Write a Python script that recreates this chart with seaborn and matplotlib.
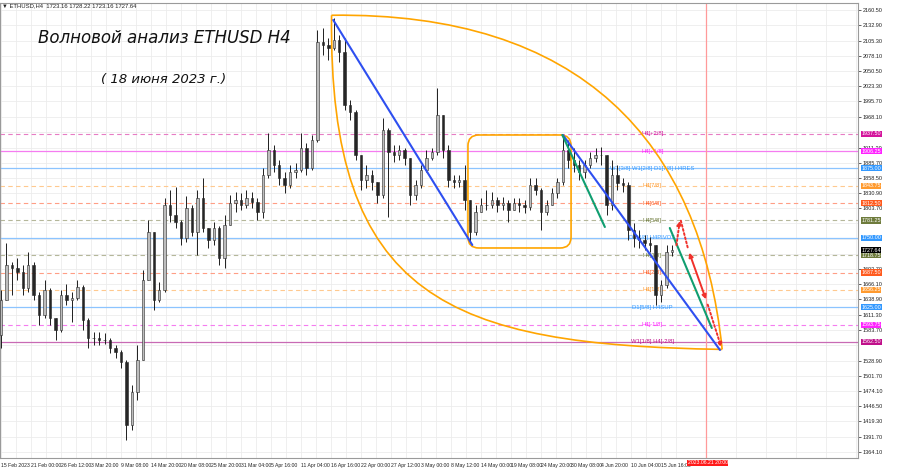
import matplotlib
matplotlib.use("Agg")
import matplotlib.pyplot as plt
import matplotlib.transforms as mtransforms
from matplotlib.path import Path
from matplotlib.patches import PathPatch, FancyBboxPatch, FancyArrowPatch
import numpy as np
import pandas as pd
import seaborn as sns

sns.set_style("white")
plt.rcParams["font.family"] = ["DejaVu Sans"]
NARROW = ["Liberation Sans Narrow", "Liberation Sans", "DejaVu Sans"]

# --- daily candles (day 0 = 15 Feb 2023) ---
first_open = 1575
close = [1638, 1701, 1696, 1688, 1660, 1701, 1647, 1611, 1656, 1606,
         1584, 1647, 1638, 1642, 1661, 1602, 1570, 1570, 1566, 1566,
         1552, 1544, 1526, 1413, 1472, 1530, 1674, 1761, 1638, 1656,
         1809, 1791, 1779, 1750, 1804, 1761, 1822, 1768, 1746, 1768,
         1714, 1773, 1813, 1818, 1809, 1822, 1815, 1797, 1863, 1908,
         1881, 1858, 1845, 1869, 1872, 1912, 1876, 1926, 2103, 2097,
         2092, 2106, 2085, 1989, 1977, 1899, 1854, 1863, 1851, 1827,
         1944, 1905, 1899, 1908, 1894, 1827, 1845, 1872, 1894, 1905,
         1971, 1908, 1854, 1851, 1854, 1818, 1761, 1797, 1809, 1809,
         1818, 1809, 1813, 1800, 1813, 1809, 1806, 1845, 1836, 1797,
         1809, 1831, 1851, 1908, 1890, 1881, 1869, 1881, 1894, 1899,
         1899, 1809, 1863, 1849, 1845, 1764, 1750, 1746, 1741, 1737,
         1647, 1665, 1724, 1727.64]
high = [1656, 1741, 1706, 1714, 1701, 1724, 1706, 1652, 1674, 1660,
        1606, 1656, 1667, 1652, 1674, 1665, 1606, 1580, 1580, 1578,
        1570, 1557, 1548, 1530, 1485, 1557, 1692, 1782, 1755, 1670,
        1822, 1836, 1842, 1782, 1825, 1809, 1836, 1858, 1768, 1779,
        1771, 1791, 1827, 1833, 1831, 1836, 1833, 1822, 1876, 1939,
        1917, 1890, 1869, 1881, 1885, 1939, 1921, 1935, 2124, 2128,
        2110, 2146, 2115, 2110, 1998, 1980, 1899, 1881, 1872, 1851,
        1966, 1948, 1917, 1917, 1912, 1890, 1854, 1881, 1908, 1912,
        2020, 1971, 1917, 1863, 1863, 1881, 1818, 1809, 1822, 1836,
        1833, 1824, 1824, 1818, 1822, 1822, 1818, 1858, 1858, 1840,
        1818, 1840, 1858, 1932, 1926, 1912, 1890, 1890, 1905, 1912,
        1914, 1890, 1890, 1881, 1858, 1851, 1777, 1764, 1755, 1752,
        1737, 1674, 1737, 1737]
low = [1552, 1638, 1647, 1674, 1647, 1652, 1638, 1593, 1606, 1593,
       1566, 1580, 1629, 1598, 1638, 1584, 1552, 1557, 1557, 1559,
       1543, 1534, 1515, 1386, 1404, 1458, 1539, 1678, 1620, 1634,
       1652, 1779, 1768, 1737, 1743, 1753, 1719, 1761, 1732, 1737,
       1701, 1696, 1773, 1797, 1800, 1804, 1804, 1782, 1786, 1858,
       1869, 1845, 1831, 1840, 1858, 1869, 1863, 1872, 1923, 2079,
       2070, 2088, 2067, 1980, 1962, 1890, 1836, 1840, 1836, 1813,
       1822, 1788, 1887, 1890, 1881, 1809, 1818, 1840, 1869, 1890,
       1899, 1894, 1842, 1840, 1842, 1800, 1741, 1755, 1797, 1800,
       1804, 1797, 1800, 1779, 1800, 1797, 1795, 1800, 1827, 1764,
       1791, 1809, 1822, 1845, 1876, 1869, 1854, 1858, 1876, 1887,
       1881, 1791, 1800, 1836, 1833, 1746, 1733, 1732, 1728, 1724,
       1629, 1634, 1660, 1717]

# Murrey-style levels
levels = [1937.50, 1906.25, 1875.00, 1843.75, 1812.50, 1781.25, 1750.00,
          1718.75, 1687.50, 1656.25, 1625.00, 1593.75, 1562.50]
level_names = ["H4[+2/8]", "H4[+1/8]", "W1[3/8] W1[2/8] D1[7/8] H4RES", "H4[7/8]",
               "H4[6/8]", "H4[5/8]", "D1[6/8] H4PIVOT", "H4[3/8]", "H4[2/8]",
               "H4[1/8]", "D1[5/8] H4SUP", "H4[-1/8]", "W1[1/8] H4[-2/8]"]
level_solid = [False, True, True, False, False, False, True, False, False, False,
               True, False, True]
level_line_col = ["#e77cc4", "#f57cf0", "#8cc4ff", "#ffc98f", "#ff9e85", "#b5b79a",
                  "#8cc4ff", "#b5b79a", "#ff9e85", "#ffc98f", "#8cc4ff", "#f57cf0", "#c86ab4"]
level_box_col = ["#d4149c", "#ff22ff", "#3399ff", "#ff9a2e", "#ff5a1e", "#6e7b3c",
                 "#3399ff", "#6e7b3c", "#ff5a1e", "#ff9a2e", "#3399ff", "#ff22ff", "#c0108a"]

price_ticks = [2160.50, 2132.90, 2105.30, 2078.10, 2050.50, 2023.30, 1995.70, 1968.10,
               1911.30, 1885.70, 1858.50, 1830.90, 1803.70, 1693.70, 1666.10, 1638.90,
               1611.30, 1583.70, 1528.90, 1501.70, 1474.10, 1446.50, 1419.30, 1391.70,
               1364.10]
grid_prices = [1940.50, 1776.10, 1748.50, 1721.30, 1556.10]
date_labels = ["15 Feb 2023", "21 Feb 00:00", "26 Feb 12:00", "3 Mar 20:00", "9 Mar 08:00",
               "14 Mar 20:00", "20 Mar 08:00", "25 Mar 20:00", "31 Mar 04:00", "5 Apr 16:00",
               "11 Apr 04:00", "16 Apr 16:00", "22 Apr 00:00", "27 Apr 12:00", "3 May 00:00",
               "8 May 12:00", "14 May 00:00", "19 May 08:00", "24 May 20:00", "30 May 08:00",
               "4 Jun 20:00", "10 Jun 04:00", "15 Jun 16:00"]

# wave markup (x in days from 15 Feb, y in price)
blue_lines = [((60.9, 2142.5), (86.4, 1737.1)), ((103.0, 1935.3), (131.8, 1547.9))]
green_lines = [((102.9, 1935.3), (110.7, 1769.5)), ((122.6, 1767.7), (130.3, 1587.5))]
arc_upper = [(60.6, 2151), (106.2, 2157), (128.2, 1926), (132.2, 1549)]
arc_lower = [(60.6, 2151), (60.0, 1638), (82.3, 1557), (132.2, 1549)]
flat_box = (85.6, 1731.7, 104.5, 1935.3)
red_path = [(123.75, 1731.7), (124.5, 1785.7), (126.0, 1728.0), (129.4, 1634.4), (132.2, 1548.0)]
event_x = 129.25

df = pd.DataFrame({"high": high, "low": low, "close": close})
df["open"] = [first_open] + close[:-1]
df["high"] = df[["high", "open", "close"]].max(axis=1)
df["low"] = df[["low", "open", "close"]].min(axis=1)
df["x"] = np.arange(len(df))

fig = plt.figure(figsize=(9, 4.68), dpi=100)
ax = fig.add_axes([0.0, 10 / 468, 858 / 900, 455 / 468])
ax.set_xlim(-0.18, 157.1)
ax.set_ylim(1353.3, 2173.1)

# grid and axes
ax.set_xticks([5.5 * k for k in range(len(date_labels))])
ax.set_xticklabels(date_labels, ha="left", fontsize=3.7, family=NARROW)
ax.set_xticks([5.5 * k + 2.75 for k in range(29)], minor=True)
ax.yaxis.tick_right()
ax.set_yticks(price_ticks)
ax.set_yticklabels([f"{v:.2f}" for v in price_ticks], fontsize=4.0, family=NARROW)
ax.set_yticks(grid_prices, minor=True)
ax.grid(True, which="both", color="#ececec", lw=0.6)
ax.tick_params(axis="both", which="major", length=2, width=0.5, pad=1.5, colors="#222222")
ax.tick_params(axis="both", which="minor", length=0)
for s in ax.spines.values():
    s.set_color("#9a9a9a")
    s.set_linewidth(0.8)

# levels
ytrans = mtransforms.blended_transform_factory(ax.transAxes, ax.transData)
for lv, nm, solid, lc, bc in zip(levels, level_names, level_solid, level_line_col, level_box_col):
    ax.axhline(lv, color=lc, lw=0.9 if solid else 0.8, ls="-" if solid else (0, (4, 3)), zorder=1)
    ax.text(119.4, lv, nm, color=bc, fontsize=4.2, ha="center", va="center", zorder=2,
            family=NARROW)
    ax.text(1.004, lv, f"{lv:.2f}", transform=ytrans, color="white", fontsize=3.9,
            ha="left", va="center", clip_on=False, zorder=6, family=NARROW,
            bbox=dict(boxstyle="square,pad=0.1", fc=bc, ec="none"))
ax.text(1.004, close[-1], f"{close[-1]:.2f}", transform=ytrans, color="white", fontsize=3.9,
        ha="left", va="center", clip_on=False, zorder=7, family=NARROW,
        bbox=dict(boxstyle="square,pad=0.1", fc="black", ec="none"))

# event line
ax.axvline(event_x, color="#ff9a9a", lw=0.9, zorder=1)
ax.text(event_x + 0.3, -0.005, "2023.06.21 20:00",
        transform=mtransforms.blended_transform_factory(ax.transData, ax.transAxes),
        ha="center", va="top", fontsize=3.7, color="white", clip_on=False, zorder=7,
        family=NARROW, bbox=dict(boxstyle="square,pad=0.15", fc="#ff1a1a", ec="none"))

# candles
ax.vlines(df["x"], df["low"], df["high"], color="#1e1e1e", lw=0.7, zorder=3)
up = df["close"] >= df["open"]
ax.bar(df["x"][up], (df["close"] - df["open"])[up], bottom=df["open"][up], width=0.45,
       color="#bdbdbd", edgecolor="#2a2a2a", lw=0.4, zorder=4)
ax.bar(df["x"][~up], (df["open"] - df["close"])[~up], bottom=df["close"][~up], width=0.45,
       color="#262626", edgecolor="#262626", lw=0.4, zorder=4)

# orange ellipse-like arcs and box
for arc in (arc_upper, arc_lower):
    p = Path(arc, [Path.MOVETO, Path.CURVE4, Path.CURVE4, Path.CURVE4])
    ax.add_patch(PathPatch(p, fc="none", ec="#ffa500", lw=1.2, zorder=5))
x0, y0, x1, y1 = flat_box
ax.add_patch(FancyBboxPatch((x0, y0), x1 - x0, y1 - y0, boxstyle="round,pad=0,rounding_size=2",
                            mutation_aspect=9.83, fc="none", ec="#ffa500", lw=1.2, zorder=5))

# trend lines
for (a, b) in blue_lines:
    sns.lineplot(x=[a[0], b[0]], y=[a[1], b[1]], color="#2e4ff0", lw=1.5, ax=ax, zorder=5)
for (a, b) in green_lines:
    sns.lineplot(x=[a[0], b[0]], y=[a[1], b[1]], color="#109e70", lw=1.5, ax=ax, zorder=5)

# red projection arrows
red = "#f0302a"
arrow_kw = dict(mutation_scale=6, color=red, lw=1.4, zorder=6)
ax.add_patch(FancyArrowPatch(red_path[0], red_path[1], arrowstyle="-|>", ls=(0, (1, 1.2)), **arrow_kw))
ax.add_patch(FancyArrowPatch(red_path[1], red_path[2], arrowstyle="-", ls=(0, (1, 1.2)), **arrow_kw))
ax.add_patch(FancyArrowPatch(red_path[2], red_path[3], arrowstyle="<|-|>", **arrow_kw))
ax.add_patch(FancyArrowPatch(red_path[3], red_path[4], arrowstyle="-|>", ls=(0, (1, 1.2)), **arrow_kw))

ax.set_xlabel("")
ax.set_ylabel("")

# titles
fig.text(164 / 900, 1 - 38 / 468, "Волновой анализ ETHUSD H4", fontsize=12, style="italic",
         ha="center", va="center", color="#111111")
fig.text(164 / 900, 1 - 80 / 468, "( 18 июня 2023 г.)", fontsize=9.5, style="italic",
         ha="center", va="center", color="#111111")
fig.text(2 / 900, 1 - 6 / 468, "\u25bc ETHUSD,H4  1723.16 1728.22 1723.16 1727.64", fontsize=4.2,
         ha="left", va="center", color="#222222", family=NARROW)

fig.savefig("out.png", dpi=100)
